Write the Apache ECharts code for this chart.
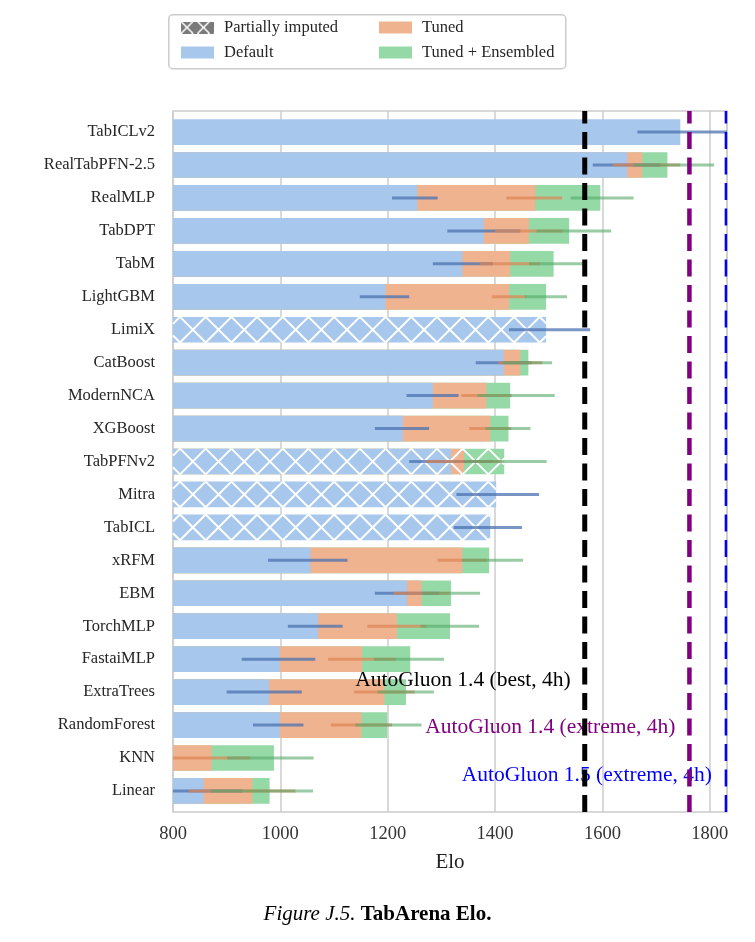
<!DOCTYPE html>
<html>
<head>
<meta charset="utf-8">
<script src="https://cdn.jsdelivr.net/npm/echarts@6/dist/echarts.min.js"></script>
<style>
  html, body { margin: 0; padding: 0; background: #fff; }
  #chart { width: 755px; height: 942px; }
</style>
</head>
<body>
<div id="chart"></div>
<script>
// model names, top to bottom
const models = ['TabICLv2', 'RealTabPFN-2.5', 'RealMLP', 'TabDPT', 'TabM', 'LightGBM', 'LimiX',
  'CatBoost', 'ModernNCA', 'XGBoost', 'TabPFNv2', 'Mitra', 'TabICL', 'xRFM', 'EBM', 'TorchMLP',
  'FastaiMLP', 'ExtraTrees', 'RandomForest', 'KNN', 'Linear'];
const imputed = [false, false, false, false, false, false, true, false, false, false, true, true, true,
  false, false, false, false, false, false, false, false];

// Elo per setting (null = not shown)
const defaultElo = [1745, 1646, 1255, 1379, 1339, 1196, 1495, 1416, 1284, 1228, 1318, 1402, 1391,
  1056, 1236, 1070, 999, 979, 999, null, 857];
const tunedElo = [null, 1674, 1475, 1463, 1428, 1426, null, 1447, 1384, 1391, 1342, null, null,
  1339, 1263, 1217, 1152, 1194, 1151, 872, 948];
const ensElo = [null, 1721, 1596, 1538, 1509, 1495, null, 1462, 1428, 1425, 1417, null, null,
  1389, 1318, 1316, 1242, 1234, 1199, 988, 980];

// confidence intervals
const defaultLo = [1665, 1582, 1208, 1311, 1284, 1148, 1426, 1364, 1235, 1176, 1240, 1328, 1323,
  977, 1176, 1014, 928, 900, 949, null, 780];
const defaultHi = [1840, 1708, 1293, 1447, 1396, 1240, 1577, 1468, 1332, 1277, 1396, 1482, 1450,
  1125, 1296, 1116, 1065, 1040, 1043, null, 930];
const tunedLo = [null, 1619, 1421, 1400, 1371, 1394, null, 1406, 1337, 1352, 1272, null, null,
  1293, 1211, 1162, 1089, 1137, 1094, 780, 829];
const tunedHi = [null, 1745, 1525, 1526, 1484, 1458, null, 1488, 1431, 1430, 1412, null, null,
  1385, 1315, 1272, 1215, 1250, 1208, 944, 1028];
const ensLo = [null, 1658, 1541, 1477, 1463, 1456, null, 1415, 1367, 1382, 1342, null, null,
  1338, 1265, 1261, 1174, 1181, 1140, 901, 870];
const ensHi = [null, 1808, 1658, 1616, 1566, 1534, null, 1506, 1511, 1466, 1496, null, null,
  1452, 1372, 1370, 1305, 1286, 1263, 1062, 1061];

// AutoGluon reference lines
const refNames = ['AutoGluon 1.4 (best, 4h)', 'AutoGluon 1.4 (extreme, 4h)', 'AutoGluon 1.5 (extreme, 4h)'];
const refElo = [1567, 1762, 1830];

const xTicks = [800, 1000, 1200, 1400, 1600, 1800];

// ---- style ----
const SERIF = '"Liberation Serif", "DejaVu Serif", serif';
const X_MIN = 800, X_MAX = 1832;
const Y_MIN = -0.64, Y_MAX = 20.64;
const BAR_H = 0.78;
const C_DEF = '#a7c8ec', C_TUN = '#f0b38f', C_ENS = '#95d9a6';
const refColors = ['#000000', '#800080', '#0000ff'];
const refWidths = [5, 4.5, 2.5];
const refTextY = [16.65, 18.08, 19.52];

function barSeries(name, values, color, z) {
  const data = [];
  values.forEach((v, i) => { if (v != null) data.push([v, i]); });
  return {
    type: 'custom', name: name, z: z, silent: true,
    itemStyle: { color: color },
    encode: { x: 0, y: 1 },
    data: data,
    renderItem: function (params, api) {
      const i = api.value(1);
      const p0 = api.coord([X_MIN, i]);
      const p1 = api.coord([api.value(0), i]);
      const h = api.size([0, BAR_H])[1];
      return {
        type: 'rect',
        shape: { x: p0[0], y: p0[1] - h / 2, width: p1[0] - p0[0], height: h },
        style: { fill: color }
      };
    }
  };
}

function clipSeg(xa, ya, xb, yb, lo, hi) {
  const dx = xb - xa;
  const ta = (lo - xa) / dx, tb = (hi - xa) / dx;
  const t0 = Math.max(0, Math.min(ta, tb)), t1 = Math.min(1, Math.max(ta, tb));
  if (t1 <= t0) return null;
  return [xa + t0 * dx, ya + t0 * (yb - ya), xa + t1 * dx, ya + t1 * (yb - ya)];
}

// hatch over the imputed bars
const hatchData = [];
imputed.forEach((f, i) => {
  if (f) hatchData.push([Math.max(defaultElo[i] || 0, tunedElo[i] || 0, ensElo[i] || 0), i]);
});
const hatchSeries = {
  type: 'custom', name: 'Partially imputed', z: 3, silent: true,
  itemStyle: { color: '#808080' },
  encode: { x: 0, y: 1 },
  data: hatchData,
  renderItem: function (params, api) {
    const i = api.value(1);
    const p0 = api.coord([X_MIN, i]);
    const p1 = api.coord([api.value(0), i]);
    const h = api.size([0, BAR_H])[1];
    const x0 = p0[0], x1 = p1[0], y0 = p0[1] - h / 2, y1 = p0[1] + h / 2;
    const children = [];
    for (let a = x0 - 2 * h + 7; a < x1 + h; a += h) {
      const s1 = clipSeg(a, y0, a + h, y1, x0, x1);
      const s2 = clipSeg(a + h, y0, a, y1, x0, x1);
      [s1, s2].forEach(s => {
        if (s) children.push({
          type: 'line', shape: { x1: s[0], y1: s[1], x2: s[2], y2: s[3] },
          style: { stroke: '#ffffff', lineWidth: 2 }
        });
      });
    }
    return { type: 'group', children: children };
  }
};

function errSeries(name, lo, hi, color) {
  const data = [];
  lo.forEach((l, i) => { if (l != null) data.push([l, hi[i], i]); });
  return {
    type: 'custom', name: name, z: 4, silent: true, clip: true,
    encode: { x: [0, 1], y: 2 },
    data: data,
    renderItem: function (params, api) {
      const i = api.value(2);
      const a = api.coord([api.value(0), i]);
      const b = api.coord([api.value(1), i]);
      return {
        type: 'line', shape: { x1: a[0], y1: a[1], x2: b[0], y2: b[1] },
        style: { stroke: color, lineWidth: 3 }
      };
    }
  };
}

const refLineSeries = {
  type: 'custom', name: 'ref', z: 7, silent: true,
  encode: { x: 0 },
  data: refElo.map((v, i) => [v, i]),
  renderItem: function (params, api) {
    const k = api.value(1);
    const bottom = api.coord([api.value(0), Y_MAX]);
    const top = api.coord([api.value(0), Y_MIN]);
    return {
      type: 'line', shape: { x1: bottom[0], y1: bottom[1], x2: top[0], y2: top[1] },
      style: { stroke: refColors[k], lineWidth: refWidths[k], lineDash: [17, 8.5] }
    };
  }
};

const refTextSeries = {
  type: 'custom', name: 'refText', z: 6, silent: true,
  encode: { x: 0 },
  data: refElo.map((v, i) => [v, i]),
  renderItem: function (params, api) {
    const k = api.value(1);
    const p = api.coord([api.value(0), refTextY[k]]);
    return {
      type: 'text', x: p[0] - 14, y: p[1],
      style: {
        text: refNames[k], fill: refColors[k], fontFamily: SERIF, fontSize: 21.5,
        align: 'right', verticalAlign: 'middle'
      }
    };
  }
};

// legend icon with cross hatch
function hatchIcon() {
  const c = document.createElement('canvas');
  c.width = 66; c.height = 24;
  const g = c.getContext('2d');
  g.fillStyle = '#7a7a7a';
  g.fillRect(0, 0, 66, 24);
  g.strokeStyle = '#ffffff';
  g.lineWidth = 3;
  for (let a = -33; a < 99; a += 33) {
    g.beginPath(); g.moveTo(a, 0); g.lineTo(a + 24, 24); g.stroke();
    g.beginPath(); g.moveTo(a + 24, 0); g.lineTo(a, 24); g.stroke();
  }
  return 'image://' + c.toDataURL();
}

const legendText = { fontFamily: SERIF, fontSize: 16.5, color: '#262626', padding: [0, 0, 0, 5] };

const chart = echarts.init(document.getElementById('chart'), null, { renderer: 'canvas' });
chart.setOption({
  animation: false,
  backgroundColor: '#ffffff',
  title: {
    text: '{i|Figure J.5.} {b|TabArena Elo.}',
    left: 'center', top: 899,
    textStyle: {
      fontFamily: SERIF, fontSize: 21, color: '#000', fontWeight: 'normal',
      rich: {
        i: { fontFamily: SERIF, fontSize: 21, fontStyle: 'italic', fontWeight: 'normal', color: '#000' },
        b: { fontFamily: SERIF, fontSize: 21, fontWeight: 'bold', color: '#000' }
      }
    }
  },
  graphic: [{
    type: 'rect', left: 168, top: 14, silent: true,
    shape: { width: 397, height: 54, r: 4 },
    style: { fill: '#ffffff', stroke: '#cccccc', lineWidth: 1.5 }
  }],
  legend: [{
    orient: 'vertical', left: 176, top: 14, itemGap: 8, itemWidth: 33, itemHeight: 12,
    selectedMode: false, textStyle: legendText,
    data: [
      { name: 'Partially imputed', icon: hatchIcon() },
      { name: 'Default', icon: 'rect', itemStyle: { color: C_DEF } }
    ]
  }, {
    orient: 'vertical', left: 374, top: 14, itemGap: 8, itemWidth: 33, itemHeight: 12,
    selectedMode: false, textStyle: legendText,
    data: [
      { name: 'Tuned', icon: 'rect', itemStyle: { color: C_TUN } },
      { name: 'Tuned + Ensembled', icon: 'rect', itemStyle: { color: C_ENS } }
    ]
  }],
  grid: {
    left: 173, right: 28, top: 111, bottom: 130,
    show: true, borderColor: '#cccccc', borderWidth: 1.5
  },
  xAxis: {
    type: 'value', min: X_MIN, max: X_MAX, interval: 200,
    axisLine: { show: false }, axisTick: { show: false },
    splitLine: { show: true, lineStyle: { color: '#cccccc', width: 1.5 } },
    axisLabel: {
      fontFamily: SERIF, fontSize: 18.5, color: '#333333', margin: 13,
      formatter: v => (xTicks.indexOf(v) >= 0 ? String(v) : '')
    },
    name: 'Elo', nameLocation: 'middle', nameGap: 40,
    nameTextStyle: { fontFamily: SERIF, fontSize: 21, color: '#222222' }
  },
  yAxis: {
    type: 'value', inverse: true, min: Y_MIN, max: Y_MAX,
    axisLine: { show: false }, axisTick: { show: false }, splitLine: { show: false },
    axisLabel: {
      customValues: models.map((m, i) => i),
      formatter: v => models[Math.round(v)] || '',
      fontFamily: SERIF, fontSize: 16.5, color: '#262626', margin: 18
    }
  },
  series: [
    barSeries('Tuned + Ensembled', ensElo, C_ENS, 2),
    barSeries('Tuned', tunedElo, C_TUN, 2),
    barSeries('Default', defaultElo, C_DEF, 2),
    hatchSeries,
    errSeries('errDefault', defaultLo, defaultHi, 'rgba(76,114,176,0.75)'),
    errSeries('errTuned', tunedLo, tunedHi, 'rgba(221,132,82,0.7)'),
    errSeries('errEns', ensLo, ensHi, 'rgba(85,168,104,0.6)'),
    refTextSeries,
    refLineSeries
  ]
});
</script>
</body>
</html>
